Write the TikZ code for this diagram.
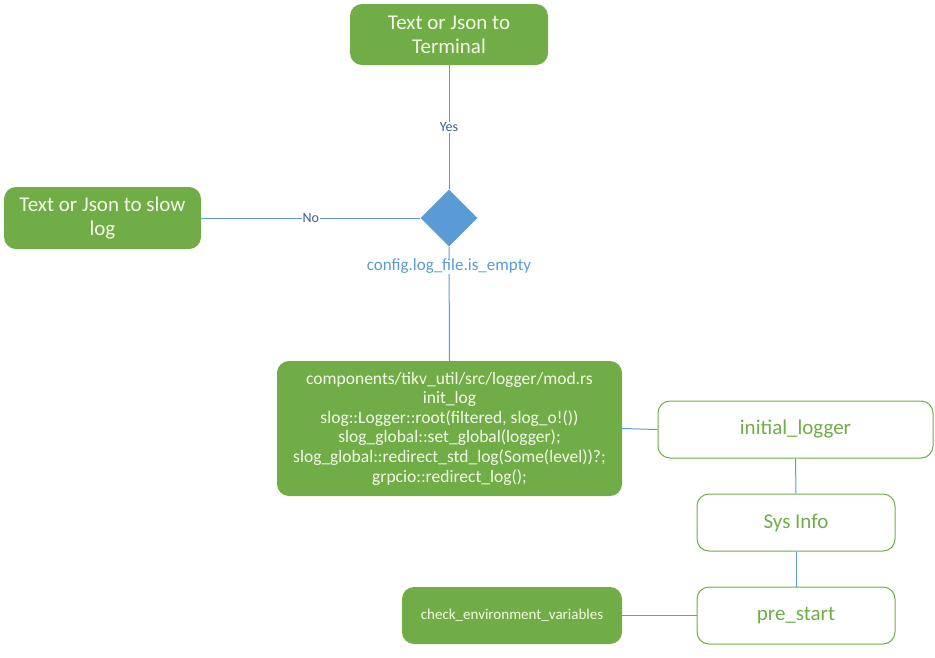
\documentclass[tikz,border=0pt]{standalone}
\usepackage{fontspec}
\setmainfont{Carlito}
\usetikzlibrary{shapes.geometric}
\definecolor{leaf}{HTML}{70AD47}
\definecolor{sky}{HTML}{5B9BD5}
\definecolor{ink}{HTML}{3F5E8C}
\definecolor{cream}{HTML}{F4FBEA}
\tikzset{
  greenbox/.style={draw=none,fill=leaf,text=cream,rounded corners=12pt,inner sep=0pt,align=center},
  whitebox/.style={draw=leaf,line width=1pt,fill=white,text=leaf,rounded corners=12pt,inner sep=0pt,align=center,font=\fontsize{21}{25}\selectfont},
  wire/.style={draw=sky,line width=1pt},
  tag/.style={fill=white,text=ink,inner sep=1pt,font=\fontsize{14}{16}\selectfont}
}
\begin{document}
\begin{tikzpicture}[x=1pt,y=-1pt]
\useasboundingbox (0,0) rectangle (935,657);
% decision part
\node[greenbox,minimum width=198,minimum height=61,font=\fontsize{21}{24}\selectfont] (term) at (449,34.5) {Text or Json to\\Terminal};
\node[greenbox,minimum width=197,minimum height=62,font=\fontsize{21}{24}\selectfont] (slow) at (102.5,218) {Text or Json to slow\\log};
\node[diamond,fill=sky,minimum width=57,minimum height=57,inner sep=0pt] (cfg) at (449,218) {};
\node[greenbox,minimum width=345,minimum height=135,font=\fontsize{17.5}{19.6}\selectfont] (initlog) at (449.5,428.5) {components/tikv\_util/src/logger/mod.rs\\init\_log\\slog::Logger::root(filtered, slog\_o!())\\slog\_global::set\_global(logger);\\slog\_global::redirect\_std\_log(Some(level))?;\\grpcio::redirect\_log();};
% right column
\node[whitebox,minimum width=275,minimum height=57] (logger) at (795.5,429.5) {initial\_logger};
\node[whitebox,minimum width=198,minimum height=57] (sys) at (796,522.5) {Sys Info};
\node[whitebox,minimum width=198,minimum height=57] (pre) at (796,615.5) {pre\_start};
\node[greenbox,minimum width=220,minimum height=57,font=\fontsize{15}{18}\selectfont] (env) at (512,615.5) {check\_environment\_variables};
% connectors
\draw[wire] (cfg.north) -- node[tag] (yes) {Yes} (term.south);
\draw[wire] (cfg.west) -- node[tag] (no) {No} (slow.east);
\draw[wire] (cfg.south) -- (initlog.north);
\node[fill=white,text=sky,inner sep=1pt,font=\fontsize{17}{20}\selectfont] (cfglabel) at (449,266) {config.log\_file.is\_empty};
\draw[wire] (initlog.east) -- (logger.west);
\draw[wire] (logger.south) -- (sys.north);
\draw[wire] (sys.south) -- (pre.north);
\draw[wire] (env.east) -- (pre.west);
\end{tikzpicture}
\end{document}
